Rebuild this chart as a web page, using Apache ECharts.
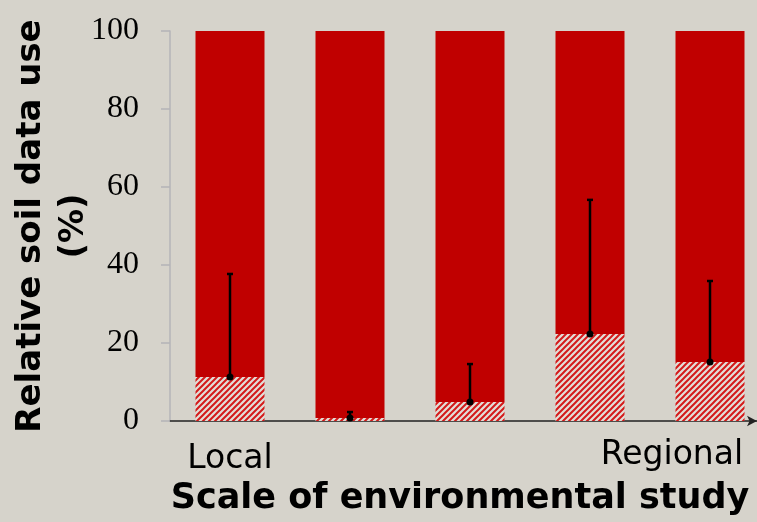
<!DOCTYPE html>
<html>
<head>
<meta charset="utf-8">
<script src="https://cdn.jsdelivr.net/npm/echarts@6/dist/echarts.min.js"></script>
<style>
  html, body { margin: 0; padding: 0; background: #D6D3CB; }
  #main { width: 757px; height: 522px; }
</style>
</head>
<body>
<div id="main"></div>
<script>
// categories along the x axis (only the two ends are labelled)
var categories = ['Local', '', '', '', 'Regional'];
// hatched lower part of each bar (%)
var hatchedValues = [11.3, 0.8, 4.9, 22.3, 15.1];
// error bar upper ends (%)
var errorTops = [37.7, 2.3, 14.6, 56.7, 35.9];
// y axis range
var yMin = 0, yMax = 100, yStep = 20;

// solid part fills each bar up to 100
var solidValues = hatchedValues.map(function (v) { return yMax - v; });

function makeHatch() {
  var c = document.createElement('canvas');
  c.width = 6; c.height = 6;
  var ctx = c.getContext('2d');
  ctx.fillStyle = '#E2DED8';
  ctx.fillRect(0, 0, 6, 6);
  ctx.strokeStyle = '#D41A1A';
  ctx.lineWidth = 2;
  ctx.beginPath();
  ctx.moveTo(-1, 7); ctx.lineTo(7, -1);
  ctx.moveTo(-4, 4); ctx.lineTo(4, -4);
  ctx.moveTo(2, 10); ctx.lineTo(10, 2);
  ctx.stroke();
  return c;
}

var chart = echarts.init(document.getElementById('main'));

var option = {
  backgroundColor: '#D6D3CB',
  animation: false,
  grid: { left: 170, top: 31, width: 600, height: 390, containLabel: false, outerBoundsMode: 'none' },
  xAxis: {
    type: 'category',
    data: categories,
    boundaryGap: true,
    name: 'Scale of environmental study',
    nameLocation: 'middle',
    nameGap: 60,
    nameMoveOverlap: false,
    nameTextStyle: {
      fontFamily: 'DejaVu Sans', fontWeight: 'bold', fontSize: 35, color: '#000',
      padding: [0, 20, 0, 0]
    },
    axisLine: { show: true, onZero: false, symbol: ['none', 'arrow'], symbolSize: [8, 10], symbolOffset: [0, -13],
      lineStyle: { color: '#222', width: 1.5 } },
    axisTick: { show: false },
    axisLabel: {
      interval: 0, margin: 18, color: '#000',
      fontFamily: 'DejaVu Sans', fontSize: 33,
      formatter: function (v, i) {
        if (!v) return '';
        return i === categories.length - 1 ? '{r|' + v + '}' : '{l|' + v + '}';
      },
      rich: {
        l: { fontFamily: 'DejaVu Sans', fontSize: 33, color: '#000', padding: [4, 0, 0, 0] },
        r: { fontFamily: 'DejaVu Sans', fontSize: 33, color: '#000', padding: [0, 76, 0, 0] }
      }
    },
    splitLine: { show: false }
  },
  yAxis: {
    type: 'value',
    min: yMin, max: yMax, interval: yStep,
    name: 'Relative soil data use\n(%)',
    nameLocation: 'middle',
    nameGap: 74,
    nameMoveOverlap: false,
    nameRotate: 90,
    nameTextStyle: {
      fontFamily: 'DejaVu Sans', fontWeight: 'bold', fontSize: 34, color: '#000', lineHeight: 43
    },
    axisLine: { show: true, lineStyle: { color: '#B4B4B8', width: 1.5 } },
    axisTick: { show: true, inside: false, length: 9, lineStyle: { color: '#B4B4B8', width: 1.5 } },
    axisLabel: { margin: 31, color: '#000', fontFamily: 'Liberation Serif', fontSize: 32 },
    splitLine: { show: false }
  },
  series: [
    {
      type: 'bar',
      stack: 'use',
      barWidth: 69,
      data: hatchedValues,
      itemStyle: { color: { image: makeHatch(), repeat: 'repeat' } }
    },
    {
      type: 'bar',
      stack: 'use',
      barWidth: 69,
      data: solidValues,
      itemStyle: { color: '#C00000' }
    },
    {
      type: 'custom',
      data: hatchedValues.map(function (v, i) { return [i, v, errorTops[i]]; }),
      z: 10,
      renderItem: function (params, api) {
        var lo = api.coord([api.value(0), api.value(1)]);
        var hi = api.coord([api.value(0), api.value(2)]);
        var style = { stroke: '#000', lineWidth: 2.5 };
        return {
          type: 'group',
          children: [
            { type: 'line', shape: { x1: lo[0], y1: lo[1], x2: hi[0], y2: hi[1] }, style: style },
            { type: 'line', shape: { x1: hi[0] - 3, y1: hi[1], x2: hi[0] + 3, y2: hi[1] }, style: style },
            { type: 'circle', shape: { cx: lo[0], cy: lo[1], r: 3.5 }, style: { fill: '#000' } }
          ]
        };
      }
    }
  ]
};

chart.setOption(option);
</script>
</body>
</html>
